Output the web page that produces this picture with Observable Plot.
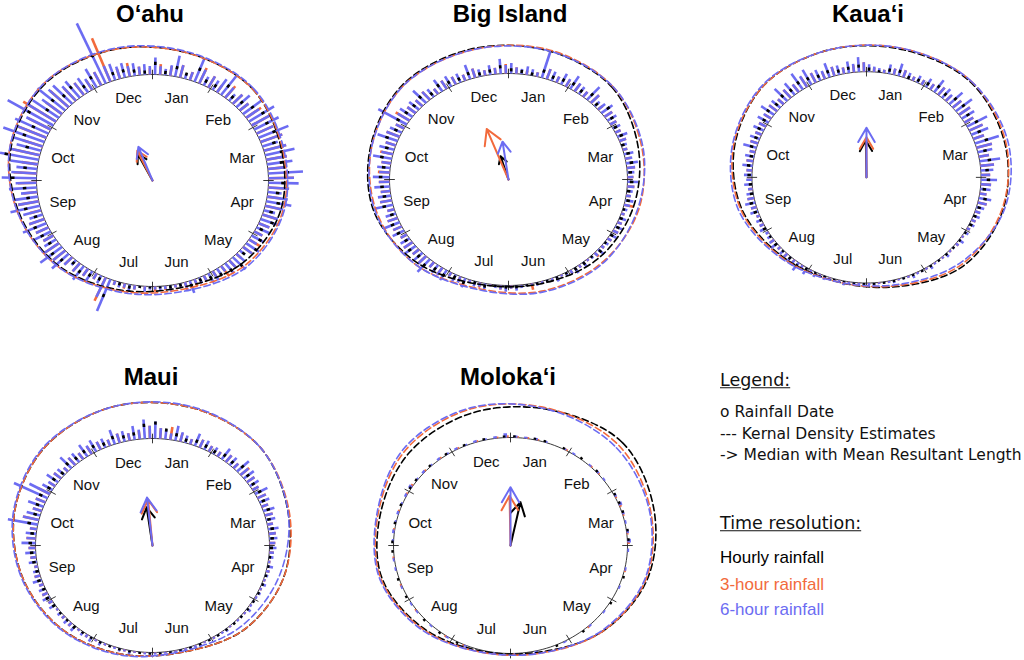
<!DOCTYPE html>
<html><head><meta charset="utf-8">
<script src="https://cdn.jsdelivr.net/npm/d3@7"></script>
<script src="https://cdn.jsdelivr.net/npm/@observablehq/plot@0.6"></script>
<style>
body{margin:0;overflow:hidden;background:#fff;}
#root{position:relative;width:1024px;height:660px;overflow:hidden;font-family:"Liberation Sans",Arial,sans-serif;}
.title{position:absolute;font-weight:bold;font-size:24px;line-height:24px;transform:translate(-50%,-50%);white-space:nowrap;color:#000;}
.panel{position:absolute;}
.leg{position:absolute;left:720px;white-space:nowrap;line-height:1;transform:translateY(-50%);}
.legd{font-family:"DejaVu Sans",sans-serif;font-size:15.5px;color:#111;}
.legh{font-family:"DejaVu Sans",sans-serif;font-size:17.5px;text-decoration:underline;color:#111;}
.legr{font-family:"Liberation Sans",Arial,sans-serif;font-size:17px;}
</style></head>
<body><div id="root"></div>
<script>
// ---------------- data ----------------
const months = ["Jan","Feb","Mar","Apr","May","Jun","Jul","Aug","Sep","Oct","Nov","Dec"];
const islands = ["O‘ahu","Big Island","Kaua‘i","Maui","Moloka‘i"];
const series = ["Hourly rainfall","3-hour rainfall","6-hour rainfall"];

// Kernel density outline radius at mid-month (Jan..Dec), in circle radii
const kdeOahuHourly = [1.24,1.22,1.15,1.14,1.10,1.04,1.07,1.14,1.19,1.26,1.30,1.28];
const kdeOahu3h     = [1.24,1.22,1.16,1.16,1.13,1.06,1.08,1.15,1.20,1.27,1.31,1.28];
const kdeOahu6h     = [1.25,1.23,1.17,1.17,1.15,1.08,1.09,1.15,1.20,1.27,1.31,1.29];
const kdeBigHourly  = [1.26,1.23,1.13,1.08,1.06,1.02,1.02,1.10,1.17,1.20,1.26,1.27];
const kdeBig3h      = [1.27,1.24,1.16,1.13,1.11,1.09,1.06,1.12,1.15,1.19,1.25,1.26];
const kdeBig6h      = [1.26,1.24,1.17,1.12,1.12,1.10,1.07,1.12,1.16,1.19,1.25,1.26];
const kdeKauaiHourly= [1.25,1.28,1.25,1.23,1.19,1.07,1.02,1.05,1.13,1.19,1.25,1.25];
const kdeKauai3h    = [1.26,1.29,1.26,1.22,1.17,1.06,1.02,1.06,1.14,1.20,1.25,1.25];
const kdeKauai6h    = [1.26,1.29,1.28,1.24,1.15,1.05,1.02,1.07,1.16,1.21,1.26,1.25];
const kdeMauiHourly = [1.33,1.30,1.20,1.16,1.11,1.03,1.05,1.10,1.15,1.22,1.30,1.34];
const kdeMaui3h     = [1.33,1.30,1.21,1.16,1.11,1.03,1.05,1.10,1.15,1.22,1.30,1.34];
const kdeMaui6h     = [1.34,1.30,1.20,1.12,1.07,1.02,1.06,1.11,1.16,1.23,1.31,1.34];
const kdeMoloHourly = [1.30,1.35,1.27,1.21,1.12,1.02,1.01,1.07,1.14,1.15,1.22,1.27];
const kdeMolo3h     = [1.31,1.31,1.24,1.20,1.12,1.03,1.02,1.08,1.15,1.17,1.26,1.31];
const kdeMolo6h     = [1.30,1.28,1.23,1.19,1.11,1.03,1.02,1.09,1.16,1.18,1.28,1.32];

// Stacked rainfall-date heights from 1 Jan, equal angular bins (hundredths of radius)
// 6-hour: 144 bins (2.5 deg); 3-hour and hourly: 72 bins (5 deg)
const datesOahu6h = [16,8,6,10,20,12,5,8,24,14,9,12, 10,15,22,12,8,12,16,10,22,14,26,18, 24,16,28,20,14,20,26,18,22,16,30,22,
  26,18,12,18,22,16,10,14,16,10,12,8, 12,8,14,10,6,10,16,9,12,6,8,10, 10,5,6,4,12,7,4,3,6,3,4,3,
  3,5,2,4,7,4,5,4,32,20,8,6, 12,8,16,10,6,10,20,14,24,16,12,10, 18,12,22,14,12,16,26,18,20,14,24,18,
  30,22,18,24,34,26,22,26,38,28,32,24, 46,30,28,22,32,24,24,18,20,14,16,12, 20,14,62,16,16,12,14,10,12,8,10,8];
const datesOahu3h = [10,9,12,8,16,12, 8,14,12,10,16,18, 16,20,20,18,16,22, 18,12,14,13,10,8, 11,10,6,10,12,6, 6,7,8,3,4,5,
  3,4,5,4,24,6, 8,10,9,14,16,10, 12,14,10,18,12,16, 20,14,24,18,26,22, 34,18,22,16,14,10, 14,44,10,13,8,6];
const datesOahuHourly = [12,4,10,6,14,6, 6,12,6,8,12,16, 14,16,12,16,14,18, 14,10,12,8,12,6, 10,12,6,12,10,8, 6,4,6,3,3,2,
  2,2,4,3,18,5, 6,8,5,10,12,8, 10,12,8,14,10,12, 22,12,30,14,20,16, 26,14,16,12,14,8, 12,30,8,8,6,4];
const datesBig6h = [10,6,5,8,6,4,26,10,9,6,11,8, 14,9,8,6,16,10,6,8,12,8,9,6, 7,5,9,6,5,4,8,6,10,7,6,5,
  9,6,5,4,7,5,4,3,6,4,7,5, 6,4,4,3,7,4,3,2,5,3,6,4, 3,2,5,3,2,2,3,2,2,3,5,3,
  6,4,3,2,7,4,5,3,9,6,7,4, 11,8,9,6,16,10,10,7,13,9,9,6, 11,8,14,9,9,6,16,10,11,8,13,9,
  14,9,11,8,16,10,13,9,18,12,11,8, 28,12,13,9,11,8,16,10,9,6,13,9, 11,8,9,6,14,9,7,5,9,6,14,8];
const datesBig3h = [6,4,4,10,6,7, 8,6,10,5,8,6, 5,6,4,5,7,5, 6,4,8,3,4,5, 4,3,5,2,3,4, 2,3,2,6,2,3,
  4,2,5,3,6,4, 8,6,10,7,9,6, 8,9,6,10,8,9, 10,8,11,9,12,8, 14,9,8,10,6,9, 8,6,9,5,6,9];
const datesBigHourly = [5,4,3,8,5,6, 7,5,8,4,9,6, 4,5,3,5,6,4, 5,3,4,2,3,4, 3,2,4,2,3,3, 2,2,1,2,1,3,
  3,2,4,3,6,4, 7,6,9,6,8,5, 7,8,5,9,7,8, 9,7,10,8,11,7, 10,8,7,9,5,8, 6,5,7,4,5,8];
const datesKauai6h = [7,5,4,3,9,6,12,7,6,4,7,5, 9,6,14,9,11,8,16,10,18,12,13,9, 20,13,16,10,22,14,13,9,18,12,11,8,
  14,9,9,6,11,8,7,5,6,4,5,3, 4,2,5,3,2,2,4,2,2,2,4,2, 2,2,4,2,2,1,3,2,1,1,3,2,
  2,2,1,1,4,2,3,2,4,2,5,3, 7,5,9,6,6,4,5,3,7,5,4,3, 6,4,5,3,7,5,9,6,6,4,7,5,
  7,5,9,6,8,5,12,7,9,6,10,7, 11,8,14,9,10,7,16,10,14,9,18,12, 16,10,11,8,14,9,9,6,11,8,14,9];
const datesKauai3h = [4,3,6,7,4,5, 6,9,7,10,12,9, 13,10,14,9,12,8, 9,6,8,4,4,3, 2,3,2,2,1,2, 1,2,1,1,1,1,
  1,1,2,1,2,3, 4,6,4,3,4,2, 4,3,5,6,4,4, 5,6,5,7,6,7, 7,9,7,10,9,11, 10,7,9,6,7,9];
const datesKauaiHourly = [4,2,5,6,3,4, 5,8,6,9,10,8, 11,9,12,8,10,7, 8,5,7,4,3,3, 2,2,1,2,1,2, 1,1,1,1,1,1,
  1,1,1,1,2,2, 3,5,3,2,3,2, 3,2,4,5,3,3, 4,5,4,6,5,6, 6,8,6,8,7,9, 8,6,7,5,6,7];
const datesMaui6h = [16,10,9,6,14,9,7,5,12,8,9,6, 7,5,12,8,9,6,14,9,11,8,9,6, 12,8,9,6,10,7,8,5,9,6,7,5,
  6,4,4,2,5,3,3,2,4,2,3,2, 2,2,4,2,2,2,1,1,3,2,2,2, 1,1,3,2,1,1,2,2,1,1,3,2,
  2,2,1,1,4,2,3,2,2,2,4,2, 5,3,4,2,6,4,5,3,4,2,6,4, 7,5,6,4,8,5,5,3,7,5,9,6,
  12,8,9,6,26,14,12,8,14,9,32,20, 10,7,12,8,8,5,14,9,10,7,13,9, 12,8,9,6,14,9,10,7,13,9,18,12];
const datesMaui3h = [10,12,8,5,8,6, 5,8,6,10,8,6, 8,6,7,5,6,5, 4,2,3,2,2,1, 1,2,1,1,1,2, 1,1,1,1,1,1,
  1,1,2,1,2,2, 3,2,4,3,2,4, 5,4,5,3,5,6, 8,6,14,8,9,12, 6,8,5,9,7,8, 8,6,9,7,8,12];
const datesMauiHourly = [16,10,7,4,6,5, 4,6,5,8,6,5, 6,5,6,4,5,4, 3,2,2,1,2,1, 1,1,1,1,1,1, 1,1,1,1,1,1,
  1,1,1,1,1,2, 2,2,3,2,2,3, 4,3,4,3,4,5, 6,5,9,6,7,8, 5,6,4,7,6,7, 7,5,8,6,7,14];
const datesMolo6h = [2,1,2,1,0,1, 1,0,1,2,1,0, 2,3,2,1,2,3, 1,0,1,0,1,0, 0,1,0,1,0,0, 1,0,0,1,0,1,
  0,1,0,0,1,0, 1,0,1,0,1,1, 0,1,0,1,1,0, 1,2,1,2,1,2, 3,1,2,1,2,1, 2,1,2,1,2,4];
const datesMolo3h = [1,1,1,0,0,1, 0,0,1,1,0,0, 1,2,1,0,1,2, 0,0,1,0,0,0, 0,0,0,1,0,0, 0,0,0,0,0,1,
  0,0,0,0,1,0, 1,0,0,0,1,0, 0,1,0,0,1,0, 0,1,0,1,0,1, 2,0,1,0,1,0, 1,0,1,0,1,2];
const datesMoloHourly = [1,0,1,1,0,1, 0,1,0,1,0,0, 1,1,1,0,1,1, 0,0,0,1,0,0, 1,0,0,0,1,0, 0,1,0,0,0,0,
  0,0,1,0,0,1, 0,1,0,1,0,0, 1,0,1,0,0,1, 1,0,1,0,1,0, 1,1,0,1,0,1, 0,1,0,1,0,2];

// Median direction (degrees clockwise from 1 Jan) and mean resultant length, per island
const medianHourly = [333, 343, 359, 352, 12];
const median3h     = [335, 339, 0, 355, 359];
const median6h     = [339, 352, 0, 354, 0];
const rhoHourly    = [0.28, 0.23, 0.35, 0.36, 0.41];
const rho3h        = [0.31, 0.51, 0.38, 0.43, 0.46];
const rho6h        = [0.34, 0.36, 0.47, 0.45, 0.54];

// ---------------- styling / layout ----------------
const BLACK = "#000000", ORANGE = "#f26a3c", BLUE = "#6c6cf2";
const colors = [BLACK, ORANGE, BLUE];
const layout = [
  {cx:152, cy:180, rx:116, ry:106, tx:150, ty:14},
  {cx:508, cy:179, rx:119, ry:106, tx:510, ty:14},
  {cx:868, cy:179, rx:116, ry:107, tx:868, ty:14},
  {cx:152, cy:545, rx:117, ry:107, tx:151, ty:377},
  {cx:510, cy:545, rx:117, ry:108, tx:508, ty:377}
];
const kdes = [
  [kdeOahuHourly, kdeOahu3h, kdeOahu6h],
  [kdeBigHourly, kdeBig3h, kdeBig6h],
  [kdeKauaiHourly, kdeKauai3h, kdeKauai6h],
  [kdeMauiHourly, kdeMaui3h, kdeMaui6h],
  [kdeMoloHourly, kdeMolo3h, kdeMolo6h]
];
const dates = [
  [datesOahuHourly, datesOahu3h, datesOahu6h],
  [datesBigHourly, datesBig3h, datesBig6h],
  [datesKauaiHourly, datesKauai3h, datesKauai6h],
  [datesMauiHourly, datesMaui3h, datesMaui6h],
  [datesMoloHourly, datesMolo3h, datesMolo6h]
];

const deg = Math.PI / 180;
const X = (r, a) => r * Math.sin(a * deg);
const Y = (r, a) => r * Math.cos(a * deg);

const root = document.getElementById("root");
const W = 320, H = 340;

islands.forEach((name, k) => {
  const L = layout[k];
  const circle = d3.range(0, 361, 2);
  const boundaries = d3.range(12).map(i => i * 30);
  const labels = months.map((m, i) => ({m, a: (i + 0.5) * 30}));
  const toBins = (arr) => {
    const w = 360 / arr.length;
    return arr.map((v, i) => ({a: (i + 0.5) * w, v})).filter(d => d.v > 0);
  };
  const [hr, h3, h6] = dates[k].map(toBins);
  const dense = dates[k][2].length > 72;
  const kdeLines = kdes[k].map((arr, s) => arr.map((r, i) => ({a: (i + 0.5) * 30, r, s})));
  const arrows = [
    {a: medianHourly[k], r: rhoHourly[k], s: 0},
    {a: median3h[k], r: rho3h[k], s: 1},
    {a: median6h[k], r: rho6h[k], s: 2}
  ];
  const bar = (off) => ({
    x1: d => X(1, d.a + off), y1: d => Y(1, d.a + off),
    x2: d => X(1 + Math.max(d.v, 1.5) / 100, d.a + off), y2: d => Y(1 + Math.max(d.v, 1.5) / 100, d.a + off)
  });
  const tip = (off) => ({
    x1: d => X(1 + Math.max(d.v / 100 - 0.03, 0), d.a + off), y1: d => Y(1 + Math.max(d.v / 100 - 0.03, 0), d.a + off),
    x2: d => X(1 + Math.max(d.v, 2) / 100, d.a + off), y2: d => Y(1 + Math.max(d.v, 2) / 100, d.a + off)
  });
  const marks = [
    Plot.line(circle, {x: a => X(1, a), y: a => Y(1, a), stroke: "#222", strokeWidth: 0.9}),
    Plot.link(boundaries, {x1: a => X(0.955, a), y1: a => Y(0.955, a), x2: a => X(1.045, a), y2: a => Y(1.045, a), stroke: "#222", strokeWidth: 0.9}),
    Plot.link(h3, {...bar(dense ? 1.25 : 0.9), stroke: ORANGE, strokeWidth: dense ? 2.6 : 3}),
    Plot.link(h6, {...bar(0), stroke: BLUE, strokeWidth: dense ? 2.6 : 3.6}),
    Plot.link(hr, {...tip(dense ? -1.25 : -0.6), stroke: BLACK, strokeWidth: 2.6}),
    ...kdeLines.map((pts, s) => Plot.line(pts, {x: d => X(d.r, d.a), y: d => Y(d.r, d.a), stroke: colors[s], strokeWidth: 1.6, strokeDasharray: "6.5,3.5", curve: "catmull-rom-closed"})),
    Plot.text(labels, {x: d => X(0.8, d.a), y: d => Y(0.8, d.a), text: "m", fontSize: 15, fill: "#111", fontFamily: "Liberation Sans, Arial, sans-serif"}),
    Plot.arrow(arrows, {x1: () => 0, y1: () => 0, x2: d => X(d.r, d.a), y2: d => Y(d.r, d.a), stroke: d => colors[d.s], strokeWidth: 2, headLength: 13})
  ];
  const chart = Plot.plot({
    width: W, height: H,
    margin: 0,
    x: {domain: [-(W / 2) / L.rx, (W / 2) / L.rx], axis: null},
    y: {domain: [-(H / 2) / L.ry, (H / 2) / L.ry], axis: null},
    style: {overflow: "visible", background: "transparent"},
    marks
  });
  const div = document.createElement("div");
  div.className = "panel";
  div.style.left = (L.cx - W / 2) + "px";
  div.style.top = (L.cy - H / 2) + "px";
  div.appendChild(chart);
  root.appendChild(div);

  const t = document.createElement("div");
  t.className = "title";
  t.style.left = L.tx + "px";
  t.style.top = L.ty + "px";
  t.textContent = name;
  root.appendChild(t);
});

// legend (text)
const legendItems = [
  {text: "Legend:", cls: "legh", y: 381},
  {text: "o Rainfall Date", cls: "legd", y: 413},
  {text: "--- Kernal Density Estimates", cls: "legd", y: 435},
  {text: "-> Median with Mean Resultant Length", cls: "legd", y: 456},
  {text: "Time resolution:", cls: "legh", y: 524},
  {text: series[0], cls: "legr", y: 557, color: BLACK},
  {text: series[1], cls: "legr", y: 584, color: ORANGE},
  {text: series[2], cls: "legr", y: 609, color: BLUE}
];
legendItems.forEach(it => {
  const d = document.createElement("div");
  d.className = "leg " + it.cls;
  d.style.top = it.y + "px";
  if (it.color) d.style.color = it.color;
  d.textContent = it.text;
  root.appendChild(d);
});
</script>
</body></html>
